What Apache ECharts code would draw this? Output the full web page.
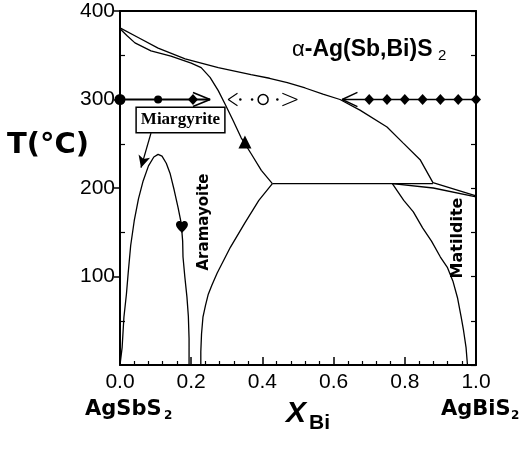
<!DOCTYPE html>
<html>
<head>
<meta charset="utf-8">
<script src="https://cdn.jsdelivr.net/npm/echarts@6.0.0/dist/echarts.min.js"></script>
<style>
html, body { margin: 0; padding: 0; background: #fff; }
#main { width: 519px; height: 458px; }
</style>
</head>
<body>
<div id="main"></div>
<script>
// phase boundaries, points are [X_Bi, T(°C)]
const upperCurve = [[0, 381], [0.051, 370], [0.107, 358], [0.183, 346], [0.276, 336], [0.368, 328], [0.42, 324],
  [0.47, 319], [0.52, 313], [0.57, 306], [0.618, 300], [0.674, 288], [0.75, 269], [0.795, 251], [0.843, 232], [0.879, 206], [1.0, 191]];
const solvusLeft = [[0, 380], [0.02, 372], [0.042, 364], [0.087, 355], [0.143, 349], [0.2, 341], [0.228, 336], [0.253, 325],
  [0.276, 310], [0.295, 295], [0.318, 276], [0.34, 257], [0.368, 239], [0.397, 220], [0.428, 205]];
const eutectoid = [[0.428, 205], [0.879, 205]];
const aramayoiteCurve = [[0.428, 205], [0.39, 186], [0.35, 160], [0.31, 133], [0.273, 104], [0.258, 90], [0.248, 80],
  [0.24, 67], [0.233, 54], [0.229, 35], [0.227, 15], [0.227, 0]];
const miargyriteDome = [[0, 0], [0.006, 20], [0.011, 54], [0.018, 80], [0.023, 104], [0.03, 135], [0.04, 163], [0.052, 188],
  [0.065, 208], [0.08, 225], [0.095, 235], [0.107, 238], [0.118, 236], [0.13, 228], [0.141, 216], [0.152, 198], [0.163, 178],
  [0.172, 160], [0.176, 140], [0.177, 122], [0.182, 100], [0.188, 77], [0.192, 55], [0.194, 30], [0.194, 0]];
const matilditeCurve = [[0.765, 205], [0.797, 186], [0.824, 173], [0.85, 155], [0.875, 140], [0.9, 122], [0.92, 110],
  [0.935, 95], [0.948, 76], [0.958, 55], [0.965, 39], [0.972, 20], [0.976, 0]];
const matilditeLower = [[0.765, 205], [0.88, 200], [1.0, 190]];

// runs at 300 °C
const leftRun = [[0, 300], [0.253, 300]];
const leftHead = [[0.205, 308], [0.253, 300], [0.205, 292]];
const midLeftHead = [[0.33, 307], [0.304, 300], [0.33, 293]];
const midRightHead = [[0.456, 307], [0.498, 300], [0.456, 293]];
const midDots = [[0.338, 300], [0.371, 300], [0.442, 300]];
const midCircle = [[0.402, 300]];
const rightRun = [[0.624, 300], [1.0, 300]];
const rightHead = [[0.667, 308], [0.624, 300], [0.667, 292]];
const bigDots = [[0, 300]];
const smallDots = [[0.107, 300]];
const diamonds = [[0.205, 300], [0.7, 300], [0.75, 300], [0.8, 300], [0.85, 300], [0.9, 300], [0.95, 300], [1.0, 300]];
const triangles = [[0.351, 252]];
const hearts = [[0.174, 156]];
const miargyriteArrow = [[0.087, 262], [0.059, 223]];

// ticks
const yLabels = [100, 200, 300, 400];
const yMinor = [50, 150, 250, 350];

const heartPath = 'path://M12 21.35l-1.45-1.32C5.4 15.36 2 12.28 2 8.5 2 5.42 4.42 3 7.5 3c1.74 0 3.41.81 4.5 2.09C13.09 3.81 14.76 3 16.5 3 19.58 3 22 5.42 22 8.5c0 3.78-3.4 6.86-8.55 11.54L12 21.35z';

const chart = echarts.init(document.getElementById('main'));

function curve(data, w) {
  return {
    type: 'line', data: data, showSymbol: false, symbol: 'none', silent: true, clip: false,
    lineStyle: { color: '#000', width: w || 1.3 }, z: 3
  };
}
function dots(data, symbol, size, extra) {
  return Object.assign({
    type: 'scatter', data: data, symbol: symbol, symbolSize: size, silent: true, clip: false,
    itemStyle: { color: '#000', opacity: 1 }, z: 5
  }, extra || {});
}

const axisFont = { fontFamily: '"Liberation Sans", Arial, sans-serif', fontSize: 21, color: '#000' };

const option = {
  animation: false,
  backgroundColor: '#fff',
  grid: { left: 120, right: 43, top: 11, bottom: 93, outerBoundsMode: 'none' },
  xAxis: [{
    type: 'value', min: 0, max: 1, interval: 0.2,
    axisLine: { show: true, onZero: false, lineStyle: { color: '#000', width: 2 } },
    axisTick: { show: true, inside: true, length: 8, lineStyle: { color: '#000', width: 1.5 } },
    minorTick: { show: true, splitNumber: 5, length: 4, lineStyle: { color: '#000', width: 1.2 } },
    splitLine: { show: false },
    axisLabel: Object.assign({ margin: 7, formatter: v => v.toFixed(1) }, axisFont)
  }, {
    type: 'value', min: 0, max: 1, position: 'top',
    axisLine: { show: true, onZero: false, lineStyle: { color: '#000', width: 2 } },
    axisTick: { show: false }, axisLabel: { show: false }, splitLine: { show: false }
  }],
  yAxis: [{
    type: 'value', min: 0, max: 400, interval: 100,
    axisLine: { show: true, onZero: false, lineStyle: { color: '#000', width: 2 } },
    axisTick: { show: true, inside: false, length: 6, customValues: yLabels, lineStyle: { color: '#000', width: 1.5 } },
    splitLine: { show: false },
    axisLabel: Object.assign({ margin: 5, customValues: yLabels }, axisFont)
  }, {
    type: 'value', min: 0, max: 400, position: 'left',
    axisLine: { show: false, onZero: false },
    axisTick: { show: true, inside: true, length: 5, customValues: yMinor, lineStyle: { color: '#000', width: 1.2 } },
    axisLabel: { show: false }, splitLine: { show: false }
  }, {
    type: 'value', min: 0, max: 400, interval: 50, position: 'right',
    axisLine: { show: true, onZero: false, lineStyle: { color: '#000', width: 2 } },
    axisTick: { show: true, inside: true, length: 5, lineStyle: { color: '#000', width: 1.2 } },
    axisLabel: { show: false }, splitLine: { show: false }
  }],
  series: [
    curve(upperCurve),
    curve(solvusLeft),
    curve(eutectoid),
    curve(aramayoiteCurve),
    Object.assign(curve(miargyriteDome), {
      markLine: {
        silent: true, symbol: ['none', 'arrow'], symbolSize: [9, 12], animation: false,
        lineStyle: { color: '#000', width: 1.3, type: 'solid' }, label: { show: false },
        data: [[{ coord: miargyriteArrow[0] }, { coord: miargyriteArrow[1] }]]
      }
    }),
    curve(matilditeCurve),
    curve(matilditeLower),
    curve(leftRun, 2),
    curve(leftHead, 1.6),
    curve(midLeftHead, 1.1),
    curve(midRightHead, 1.1),
    curve(rightRun, 1.6),
    curve(rightHead, 1.4),
    dots(midDots, 'circle', 2.5),
    dots(midCircle, 'circle', 10, { itemStyle: { color: '#fff', borderColor: '#000', borderWidth: 1.5, opacity: 1 } }),
    dots(bigDots, 'circle', 11),
    dots(smallDots, 'circle', 8),
    dots(diamonds, 'diamond', [10, 11]),
    dots(triangles, 'triangle', 13),
    dots(hearts, heartPath, 12)
  ],
  graphic: [
    { type: 'text', x: 7, y: 145, z: 10, style: { text: 'T(°C)', font: 'bold 29px "DejaVu Sans"', fill: '#000', textAlign: 'left', textVerticalAlign: 'middle', align: 'left', verticalAlign: 'middle' } },
    { type: 'text', x: 292, y: 50, z: 10, style: {
      text: '{a|α}{b|-Ag(Sb,Bi)S}', fill: '#000', textAlign: 'left', textVerticalAlign: 'middle', align: 'left', verticalAlign: 'middle',
      rich: { a: { font: '22px "Liberation Sans"', fill: '#000' }, b: { font: 'bold 23px "Liberation Sans"', fill: '#000' } }
    } },
    { type: 'text', x: 438, y: 56, z: 10, style: { text: '2', font: '15px "Liberation Sans"', fill: '#000', textAlign: 'left', textVerticalAlign: 'middle', align: 'left', verticalAlign: 'middle' } },
    { type: 'text', x: 180.5, y: 120, z: 10, style: {
      text: 'Miargyrite', font: 'bold 17px "Liberation Serif"', fill: '#000', textAlign: 'center', textVerticalAlign: 'middle', align: 'center', verticalAlign: 'middle',
      backgroundColor: '#fff', borderColor: '#000', borderWidth: 1.5, padding: [4, 4, 3, 4]
    } },
    { type: 'text', x: 204, y: 222, rotation: Math.PI / 2, z: 10, style: { text: 'Aramayoite', font: 'bold 15px "DejaVu Sans"', fill: '#000', textAlign: 'center', textVerticalAlign: 'middle', align: 'center', verticalAlign: 'middle' } },
    { type: 'text', x: 457.5, y: 238, rotation: Math.PI / 2, z: 10, style: { text: 'Matildite', font: 'bold 16px "DejaVu Sans"', fill: '#000', textAlign: 'center', textVerticalAlign: 'middle', align: 'center', verticalAlign: 'middle' } },
    { type: 'text', x: 85, y: 410, z: 10, style: { text: 'AgSbS', font: 'bold 21px "DejaVu Sans"', fill: '#000', textAlign: 'left', textVerticalAlign: 'middle', align: 'left', verticalAlign: 'middle' } },
    { type: 'text', x: 164, y: 416, z: 10, style: { text: '2', font: 'bold 12px "DejaVu Sans"', fill: '#000', textAlign: 'left', textVerticalAlign: 'middle', align: 'left', verticalAlign: 'middle' } },
    { type: 'text', x: 441, y: 410, z: 10, style: { text: 'AgBiS', font: 'bold 21px "DejaVu Sans"', fill: '#000', textAlign: 'left', textVerticalAlign: 'middle', align: 'left', verticalAlign: 'middle' } },
    { type: 'text', x: 511, y: 416, z: 10, style: { text: '2', font: 'bold 12px "DejaVu Sans"', fill: '#000', textAlign: 'left', textVerticalAlign: 'middle', align: 'left', verticalAlign: 'middle' } },
    { type: 'text', x: 286, y: 414, z: 10, style: { text: 'X', font: 'italic bold 30px "Liberation Sans"', fill: '#000', textAlign: 'left', textVerticalAlign: 'middle', align: 'left', verticalAlign: 'middle' } },
    { type: 'text', x: 309, y: 423, z: 10, style: { text: 'Bi', font: 'bold 21px "Liberation Sans"', fill: '#000', textAlign: 'left', textVerticalAlign: 'middle', align: 'left', verticalAlign: 'middle' } }
  ]
};

chart.setOption(option);
</script>
</body>
</html>
